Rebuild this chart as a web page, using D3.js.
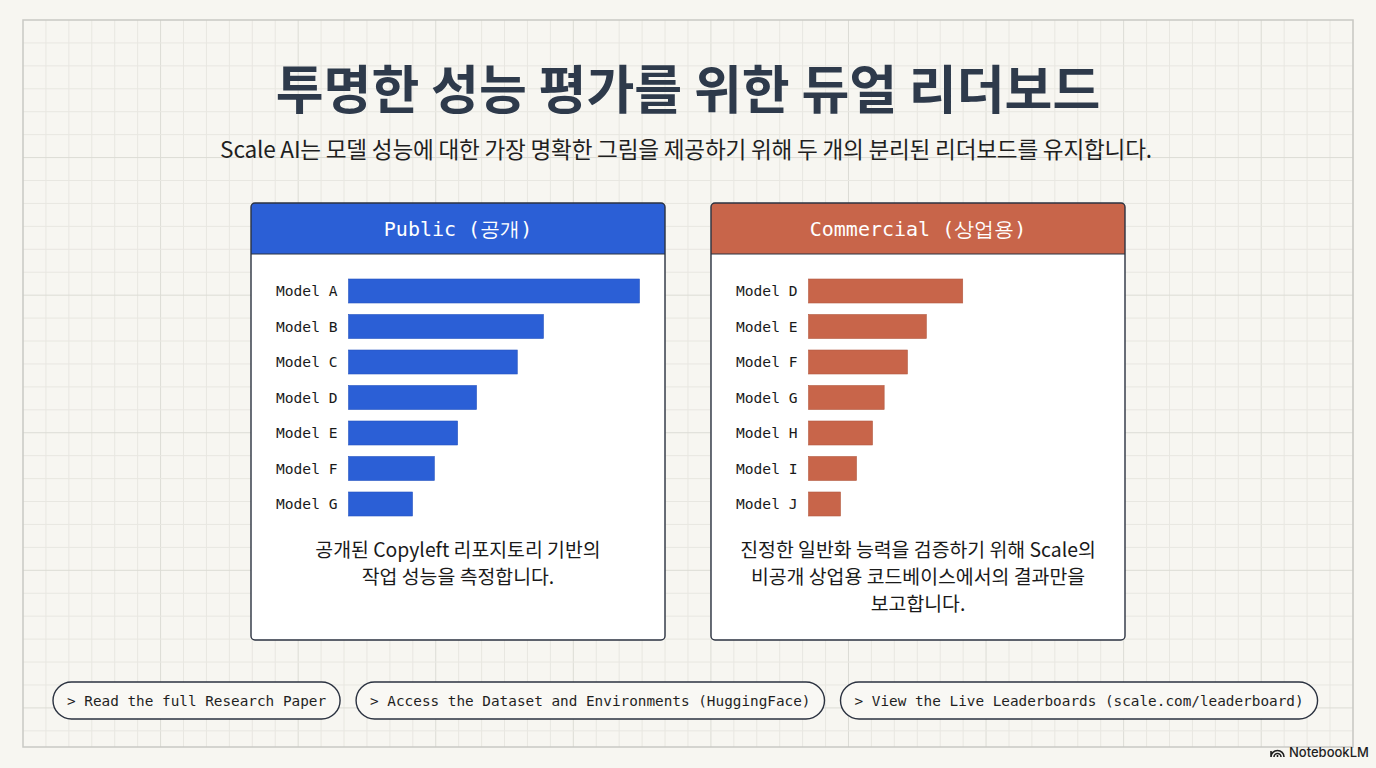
<!DOCTYPE html>
<html>
<head>
<meta charset="utf-8">
<script src="https://cdn.jsdelivr.net/npm/d3@7"></script>
<style>
  html, body { margin: 0; padding: 0; background: #f7f6f1; }
  svg { display: block; }
</style>
</head>
<body>
<div id="content"></div>
<script>
// chart data
var titleText = "투명한 성능 평가를 위한 듀얼 리더보드";
var subtitleText = "Scale AI는 모델 성능에 대한 가장 명확한 그림을 제공하기 위해 두 개의 분리된 리더보드를 유지합니다.";

var publicModels = ["Model A", "Model B", "Model C", "Model D", "Model E", "Model F", "Model G"];
var publicScores = [100, 67, 58, 44, 37.5, 29.5, 22];
var publicNote = ["공개된 Copyleft 리포지토리 기반의", "작업 성능을 측정합니다."];

var commercialModels = ["Model D", "Model E", "Model F", "Model G", "Model H", "Model I", "Model J"];
var commercialScores = [53, 40.5, 34, 26, 22, 16.5, 11];
var commercialNote = ["진정한 일반화 능력을 검증하기 위해 Scale의", "비공개 상업용 코드베이스에서의 결과만을", "보고합니다."];

var linkLabels = [
  "> Read the full Research Paper",
  "> Access the Dataset and Environments (HuggingFace)",
  "> View the Live Leaderboards (scale.com/leaderboard)"
];

var W = 1376, H = 768;
var mono = "'DejaVu Sans Mono', 'Liberation Mono', monospace";
var sans = "'Noto Sans CJK KR', 'Noto Sans', sans-serif";

var svg = d3.select("#content").append("svg")
    .attr("width", W)
    .attr("height", H);

svg.append("rect").attr("width", W).attr("height", H).attr("fill", "#f7f6f1");

// graph paper background
var frame = {x0: 23, y0: 20, x1: 1353, y1: 747};
var cell = 22.93;
var grid = svg.append("g");
d3.range(frame.x0 + cell, frame.x1, cell).forEach(function (x, i) {
  grid.append("line")
      .attr("x1", x).attr("x2", x).attr("y1", frame.y0).attr("y2", frame.y1)
      .attr("stroke", (i + 1) % 6 == 0 ? "#dcdcd5" : "#e8e7e1")
      .attr("stroke-width", 1);
});
d3.range(frame.y0 + cell, frame.y1, cell).forEach(function (y, i) {
  grid.append("line")
      .attr("x1", frame.x0).attr("x2", frame.x1).attr("y1", y).attr("y2", y)
      .attr("stroke", (i + 1) % 6 == 0 ? "#dcdcd5" : "#e8e7e1")
      .attr("stroke-width", 1);
});
svg.append("rect")
    .attr("x", frame.x0).attr("y", frame.y0)
    .attr("width", frame.x1 - frame.x0).attr("height", frame.y1 - frame.y0)
    .attr("fill", "none").attr("stroke", "#c9c9c4").attr("stroke-width", 1.5);

// title + subtitle
svg.append("text")
    .attr("x", W / 2).attr("y", 109)
    .attr("text-anchor", "middle")
    .style("font-family", sans).style("font-weight", 700)
    .style("font-size", "52px").style("fill", "#2e3a4b")
    .text(titleText);
svg.append("text")
    .attr("x", W / 2 - 2).attr("y", 158)
    .attr("text-anchor", "middle")
    .style("font-family", sans).style("font-weight", 400)
    .style("font-size", "22.6px").style("letter-spacing", "-0.2px")
    .style("fill", "#1f1f1f")
    .text(subtitleText);

// shared value scale for both leaderboards
var x = d3.scaleLinear().domain([0, 100]).range([0, 291]);

function addPanel(px, title, color, models, scores, note) {
  var pw = 414, ph = 437, py = 203, hh = 51;
  var g = svg.append("g").attr("transform", "translate(" + px + "," + py + ")");

  g.append("rect")
      .attr("width", pw).attr("height", ph).attr("rx", 4)
      .attr("fill", "#ffffff");
  // header
  g.append("path")
      .attr("d", "M0," + hh + "V4Q0,0 4,0H" + (pw - 4) + "Q" + pw + ",0 " + pw + ",4V" + hh + "Z")
      .attr("fill", color);
  g.append("line")
      .attr("x1", 0).attr("x2", pw).attr("y1", hh).attr("y2", hh)
      .attr("stroke", "#2b3240").attr("stroke-width", 1.2);
  g.append("text")
      .attr("x", pw / 2).attr("y", 33)
      .attr("text-anchor", "middle")
      .style("font-family", mono).style("font-size", "20px")
      .style("font-weight", 500)
      .style("fill", "#ffffff")
      .text(title);
  g.append("rect")
      .attr("width", pw).attr("height", ph).attr("rx", 4)
      .attr("fill", "none").attr("stroke", "#2b3240").attr("stroke-width", 1.4);

  var y = d3.scaleBand()
      .domain(models)
      .range([70.25, 318.75])
      .paddingInner(0.324)
      .paddingOuter(0.162);

  var bars = g.append("g").attr("transform", "translate(97.5,0)");
  bars.selectAll("rect")
      .data(models)
      .join("rect")
      .attr("x", 0)
      .attr("y", function (d) { return y(d); })
      .attr("width", function (d, i) { return x(scores[i]); })
      .attr("height", y.bandwidth())
      .attr("fill", color)
      .attr("stroke", d3.color(color).darker(0.3))
      .attr("stroke-width", 0.6);

  g.append("g").selectAll("text")
      .data(models)
      .join("text")
      .attr("x", 25)
      .attr("y", function (d) { return y(d) + y.bandwidth() / 2; })
      .attr("dy", "0.35em")
      .style("font-family", mono).style("font-size", "14.6px")
      .style("fill", "#1a1a1a")
      .text(function (d) { return d; });

  g.append("g").selectAll("text")
      .data(note)
      .join("text")
      .attr("x", pw / 2)
      .attr("y", function (d, i) { return 354 + i * 27; })
      .attr("text-anchor", "middle")
      .style("font-family", sans).style("font-size", "19.4px")
      .style("fill", "#1a1a1a")
      .text(function (d) { return d; });
}

addPanel(251, "Public (공개)", "#2b5fd6", publicModels, publicScores, publicNote);
addPanel(711, "Commercial (상업용)", "#c8654a", commercialModels, commercialScores, commercialNote);

// link buttons
var bx = 53, by = 682, bh = 37;
linkLabels.forEach(function (label) {
  var b = svg.append("g");
  var r = b.append("rect");
  var t = b.append("text")
      .attr("y", by + bh / 2)
      .attr("dy", "0.35em")
      .style("font-family", mono).style("font-size", "14.35px")
      .style("fill", "#1f1f1f")
      .text(label);
  var tw = t.node().getComputedTextLength();
  t.attr("x", bx + 14);
  r.attr("x", bx).attr("y", by)
      .attr("width", tw + 28).attr("height", bh)
      .attr("rx", bh / 2)
      .attr("fill", "#f9f8f4")
      .attr("stroke", "#2b3240").attr("stroke-width", 1.4);
  bx += tw + 28 + 16;
});

// NotebookLM mark
var logo = svg.append("g").attr("transform", "translate(1271,752)");
logo.append("path")
    .attr("d", "M0,5 A6.5,6.5 0 0 1 13,5 M3,5 A3.5,3.5 0 0 1 10,5 M0,5 V-1 M6.5,5 V3")
    .attr("fill", "none").attr("stroke", "#1f1f1f").attr("stroke-width", 1.6);
svg.append("text")
    .attr("x", 1289).attr("y", 757)
    .style("font-family", "'Inter', 'Noto Sans', sans-serif")
    .style("font-size", "13px").style("font-weight", 500)
    .style("fill", "#1f1f1f")
    .text("NotebookLM");
</script>
</body>
</html>
